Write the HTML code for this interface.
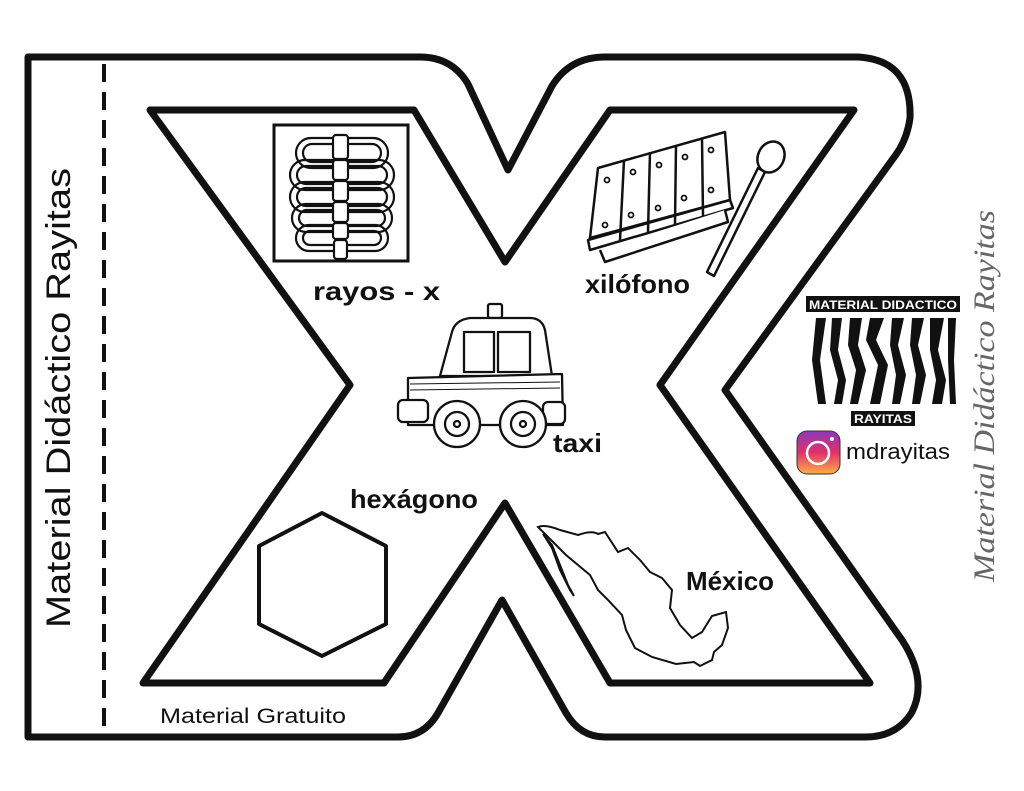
<!DOCTYPE html>
<html><head><meta charset="utf-8"><style>
html,body{margin:0;padding:0;background:#fff;}
svg{display:block;}
</style></head><body>
<svg width="1024" height="791" viewBox="0 0 1024 791" xmlns="http://www.w3.org/2000/svg">
<rect width="1024" height="791" fill="#fff"/>
<path d="M28,57 L420,57 Q452,57 468,84 L508,170 L552,86 Q570,57 605,57 L858,57 Q912,60 910,118 Q907,140 895,156 L725,390 L902,640 Q928,680 912,712 Q897,737 865,737 L605,737 Q580,737 566,713 L502,600 L438,713 Q424,737 398,737 L28,737 Z" fill="#fff" stroke="#111" stroke-width="7" stroke-linejoin="round"/>
<line x1="104" y1="64" x2="104" y2="733" stroke="#111" stroke-width="4" stroke-dasharray="18,10"/>
<path d="M150,110 L414,110 L505,262 L610,110 L854,110 L660,385 L870,683 L610,683 L505,503 L384,683 L143,683 L350,385 Z" fill="#fff" stroke="#111" stroke-width="7" stroke-linejoin="round"/>

<text transform="translate(70,628) rotate(-90)" font-family="Liberation Sans, sans-serif" font-size="34" fill="#111" textLength="460" lengthAdjust="spacingAndGlyphs">Material Didáctico Rayitas</text>
<text transform="translate(994,582) rotate(-90)" font-family="Liberation Serif, serif" font-style="italic" font-size="30" fill="#666" textLength="372" lengthAdjust="spacingAndGlyphs">Material Didáctico Rayitas</text>
<text x="160" y="723" font-family="Liberation Sans, sans-serif" font-size="21" fill="#111" textLength="186" lengthAdjust="spacingAndGlyphs">Material Gratuito</text>

<!-- x-ray -->
<rect x="274" y="125" width="134" height="136" fill="#fff" stroke="#111" stroke-width="3"/>
<g fill="none" stroke="#111" stroke-width="2.2">
<rect x="296" y="138" width="92" height="30" rx="15"/>
<rect x="303" y="144" width="78" height="18" rx="9"/>
<rect x="290" y="160" width="104" height="30" rx="15"/>
<rect x="297" y="166" width="90" height="18" rx="9"/>
<rect x="290" y="182" width="104" height="30" rx="15"/>
<rect x="297" y="188" width="90" height="18" rx="9"/>
<rect x="292" y="204" width="100" height="28" rx="14"/>
<rect x="299" y="210" width="86" height="16" rx="8"/>
<rect x="296" y="225" width="92" height="26" rx="13"/>
<rect x="303" y="231" width="78" height="14" rx="7"/>
</g>
<g fill="#fff" stroke="#111" stroke-width="2.2">
<rect x="333" y="135" width="15" height="24" rx="3"/>
<rect x="333" y="160" width="15" height="20" rx="3"/>
<rect x="333" y="181" width="15" height="20" rx="3"/>
<rect x="333" y="202" width="15" height="20" rx="3"/>
<rect x="333" y="223" width="15" height="16" rx="3"/>
<rect x="334" y="240" width="13" height="19" rx="3"/>
</g>
<text x="313" y="300" font-family="Liberation Sans, sans-serif" font-weight="bold" font-size="26" fill="#111" textLength="127" lengthAdjust="spacingAndGlyphs">rayos - x</text>

<!-- xylophone -->
<g fill="#fff" stroke="#111" stroke-width="2.5" stroke-linejoin="round">
<path d="M590,238 L598,168 L725,132 L730,200 Z"/>
<path d="M588,240 L730,200 L733,208 L590,250 Z"/>
<path d="M600,250 L605,262 L728,222 L725,210"/>
<line x1="624" y1="160" x2="620" y2="240"/>
<line x1="650" y1="152" x2="648" y2="232"/>
<line x1="676" y1="145" x2="675" y2="224"/>
<line x1="702" y1="138" x2="703" y2="216"/>
<path d="M707,272 L758,168 L765,172 L714,276 Z"/>
<ellipse cx="771" cy="157" rx="13" ry="16" transform="rotate(25 771 157)"/>
</g>
<g fill="none" stroke="#111" stroke-width="1.8">
<circle cx="607" cy="180" r="2.5"/><circle cx="605" cy="225" r="2.5"/>
<circle cx="633" cy="172" r="2.5"/><circle cx="631" cy="215" r="2.5"/>
<circle cx="659" cy="165" r="2.5"/><circle cx="658" cy="208" r="2.5"/>
<circle cx="685" cy="157" r="2.5"/><circle cx="684" cy="198" r="2.5"/>
<circle cx="711" cy="150" r="2.5"/><circle cx="711" cy="190" r="2.5"/>
</g>
<text x="585" y="293" font-family="Liberation Sans, sans-serif" font-weight="bold" font-size="26" fill="#111" textLength="105" lengthAdjust="spacingAndGlyphs">xilófono</text>

<!-- taxi -->
<g fill="#fff" stroke="#111" stroke-width="2.3" stroke-linejoin="round">
<rect x="488" y="304" width="14" height="14" rx="2"/>
<path d="M440,376 L452,332 Q455,320 470,318 L530,318 Q542,318 545,330 L552,376 Z"/>
<rect x="464" y="332" width="30" height="40"/>
<rect x="498" y="332" width="32" height="40"/>
<path d="M408,378 L562,374 L563,425 L408,425 Z"/>
<rect x="398" y="400" width="30" height="22" rx="5"/>
<rect x="543" y="402" width="22" height="22" rx="5"/>
<circle cx="457" cy="424" r="23"/><circle cx="457" cy="424" r="12"/><circle cx="457" cy="424" r="3"/>
<circle cx="523" cy="424" r="23"/><circle cx="523" cy="424" r="12"/><circle cx="523" cy="424" r="3"/>
</g>
<g stroke="#111" stroke-width="1">
<line x1="410" y1="384" x2="560" y2="382"/>
<line x1="410" y1="390" x2="560" y2="388"/>
</g>
<text x="553" y="452" font-family="Liberation Sans, sans-serif" font-weight="bold" font-size="26" fill="#111" textLength="49" lengthAdjust="spacingAndGlyphs">taxi</text>

<text x="350" y="508" font-family="Liberation Sans, sans-serif" font-weight="bold" font-size="26" fill="#111" textLength="128" lengthAdjust="spacingAndGlyphs">hexágono</text>
<polygon points="322,513 386,546 386,624 322,656 259,624 259,546" fill="#fff" stroke="#111" stroke-width="4" stroke-linejoin="round"/>

<path d="M538,527 Q545,524 560,530 L578,535 Q592,530 598,534 L605,532 L618,552 L628,548 L640,560 L650,572 L662,578 L672,590 L670,608 L680,625 L692,638 L702,632 L712,616 L726,612 L728,628 L722,645 L714,652 L712,660 L700,666 L694,662 L676,664 L652,657 L635,648 L626,630 L622,615 L608,600 L598,590 L590,575 L578,565 L566,555 Z M543,534 L552,548 L560,570 L570,590 L574,596 L568,585 L560,565 L552,545 Z" fill="none" stroke="#111" stroke-width="2"/>
<text x="686" y="590" font-family="Liberation Sans, sans-serif" font-weight="bold" font-size="26" fill="#111" textLength="88" lengthAdjust="spacingAndGlyphs">México</text>

<rect x="806" y="296" width="154" height="16" fill="#111"/>
<text x="809" y="309" font-family="Liberation Sans, sans-serif" font-weight="bold" font-size="12" fill="#fff" textLength="148" lengthAdjust="spacingAndGlyphs">MATERIAL DIDACTICO</text>
<g fill="#111">
<path d="M816,318 L826,318 L820,360 L826,404 L818,404 L812,360 Z"/>
<path d="M832,318 L842,318 L838,350 L846,380 L842,404 L834,404 L838,380 L830,350 Z"/>
<path d="M850,318 L862,318 L858,345 L866,370 L858,404 L850,404 L856,370 L848,345 Z"/>
<path d="M870,318 L884,318 L876,340 L888,365 L880,404 L870,404 L878,365 L866,340 Z"/>
<path d="M892,318 L904,318 L898,345 L906,375 L900,404 L892,404 L896,375 L890,345 Z"/>
<path d="M912,318 L924,318 L918,345 L926,375 L920,404 L912,404 L916,375 L910,345 Z"/>
<path d="M930,318 L944,318 L938,350 L946,380 L942,404 L932,404 L936,380 L930,350 Z"/>
<path d="M948,318 L956,318 L954,360 L956,404 L950,404 L948,360 Z"/>
</g>
<rect x="851" y="411" width="64" height="15" fill="#111"/>
<text x="854" y="423" font-family="Liberation Sans, sans-serif" font-weight="bold" font-size="12" fill="#fff" textLength="58" lengthAdjust="spacingAndGlyphs">RAYITAS</text>
<defs><linearGradient id="ig" x1="0" y1="0" x2="0" y2="1"><stop offset="0" stop-color="#8a3ab9"/><stop offset="0.5" stop-color="#e1306c"/><stop offset="1" stop-color="#fcaf45"/></linearGradient></defs>
<rect x="797" y="431" width="43" height="43" rx="10" fill="url(#ig)" stroke="#333" stroke-width="1"/>
<circle cx="818" cy="453" r="11" fill="none" stroke="#fff" stroke-width="2.5"/>
<circle cx="832" cy="439" r="2" fill="#fff"/>
<text x="846" y="459" font-family="Liberation Sans, sans-serif" font-size="22" fill="#111" textLength="104" lengthAdjust="spacingAndGlyphs">mdrayitas</text>
</svg>
</body></html>
